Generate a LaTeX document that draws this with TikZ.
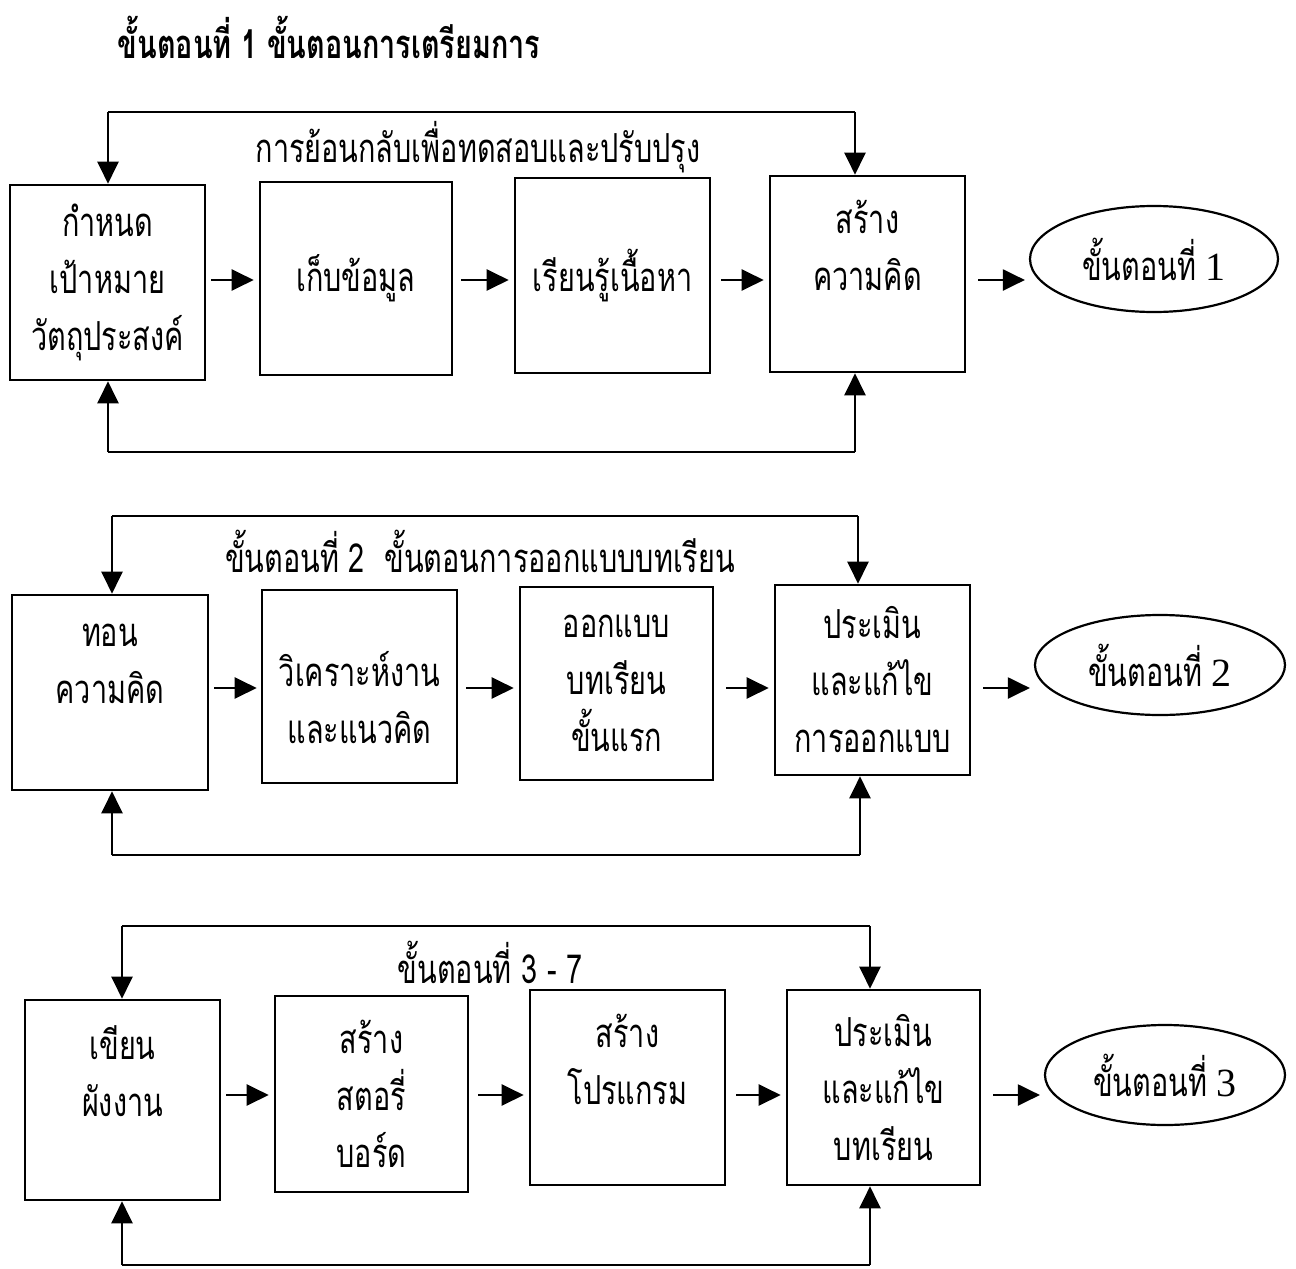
\documentclass[tikz,border=0pt]{standalone}
\usepackage{fontspec}
\setmainfont[Script=Thai, FakeStretch=0.72]{Loma}
\newfontfamily\serdigits{Liberation Serif}
\usetikzlibrary{arrows.meta,shapes.geometric}
\tikzset{
  box/.style={draw, line width=1.3pt, align=center, font=\fontsize{20}{28.5}\selectfont, inner sep=0pt},
  oval/.style={draw, ellipse, line width=1.1pt, font=\fontsize{20}{24}\selectfont, inner sep=0pt},
  arr/.style={line width=1.1pt, -{Triangle[length=11pt,width=10.5pt]}},
  fb/.style={line width=1.1pt},
  lbl/.style={font=\fontsize{20}{24}\selectfont, inner sep=0pt}
}
\begin{document}
\begin{tikzpicture}[x=0.5pt,y=-0.5pt]
\useasboundingbox (0,0) rectangle (1296,1269);
% title
\node[lbl, font=\fontsize{20}{24}\selectfont\bfseries] (title) at (329,37) {ขั้นตอนที่ 1 ขั้นตอนการเตรียมการ};

% ---------- Row 1 ----------
\node[box, minimum width=97.5pt, minimum height=97.5pt] (a1) at (107.5,282.5) {กำหนด\\เป้าหมาย\\วัตถุประสงค์};
\node[box, minimum width=96pt, minimum height=96.5pt] (b1) at (356,278.5) {เก็บข้อมูล};
\node[box, minimum width=97.5pt, minimum height=97.5pt] (c1) at (612.5,275.5) {เรียนรู้เนื้อหา};
\node[box, minimum width=97.5pt, minimum height=98pt] (d1) at (867.5,274) {สร้าง\\ความคิด\\\mbox{}};
\node[oval, minimum width=124pt, minimum height=53pt] (e1) at (1154,259) {ขั้นตอนที่ {\serdigits 1}};
\node[lbl] (l1) at (478,147) {การย้อนกลับเพื่อทดสอบและปรับปรุง};

\draw[arr, shorten <=2.5pt, shorten >=2.5pt] (a1.east |- 0,280) -- (b1.west |- 0,280);
\draw[arr, shorten <=4pt, shorten >=2.5pt] (b1.east |- 0,280) -- (c1.west |- 0,280);
\draw[arr, shorten <=5pt, shorten >=2.5pt] (c1.east |- 0,280) -- (d1.west |- 0,280);
\draw[arr, shorten <=6pt, shorten >=2pt] (d1.east |- 0,280) -- (e1.west |- 0,280);

\coordinate (t1a) at (108,112);
\coordinate (t1d) at (855,112);
\coordinate (b1a) at (108,452);
\coordinate (b1d) at (855,452);
\draw[fb] (t1a) -- (t1d);
\draw[arr] (t1a) -- (t1a |- a1.north);
\draw[arr] (t1d) -- (t1d |- d1.north);
\draw[fb] (b1a) -- (b1d);
\draw[arr] (b1a) -- (b1a |- a1.south);
\draw[arr] (b1d) -- (b1d |- d1.south);

% ---------- Row 2 ----------
\node[box, minimum width=98pt, minimum height=97.5pt] (a2) at (110,692.5) {ทอน\\ความคิด\\\mbox{}};
\node[box, minimum width=97.5pt, minimum height=96.5pt] (b2) at (359.5,686.5) {\mbox{}\\วิเคราะห์งาน\\และแนวคิด};
\node[box, minimum width=96.5pt, minimum height=96.5pt] (c2) at (616.5,683.5) {ออกแบบ\\บทเรียน\\ขั้นแรก};
\node[box, minimum width=97.5pt, minimum height=95pt] (d2) at (872.5,680) {ประเมิน\\และแก้ไข\\การออกแบบ};
\node[oval, minimum width=125pt, minimum height=50pt] (e2) at (1160,665) {ขั้นตอนที่ {\serdigits 2}};
\node[lbl] (l2) at (480,551) {ขั้นตอนที่ 2\ \ ขั้นตอนการออกแบบบทเรียน};

\draw[arr, shorten <=2.5pt, shorten >=2pt] (a2.east |- 0,688) -- (b2.west |- 0,688);
\draw[arr, shorten <=4pt, shorten >=2.5pt] (b2.east |- 0,688) -- (c2.west |- 0,688);
\draw[arr, shorten <=6pt, shorten >=2.5pt] (c2.east |- 0,688) -- (d2.west |- 0,688);
\draw[arr, shorten <=6pt, shorten >=2pt] (d2.east |- 0,688) -- (e2.west |- 0,688);

\coordinate (t2a) at (112,516);
\coordinate (t2d) at (858,516);
\coordinate (b2a) at (112,855);
\coordinate (b2d) at (860,855);
\draw[fb] (t2a) -- (t2d);
\draw[arr] (t2a) -- (t2a |- a2.north);
\draw[arr] (t2d) -- (t2d |- d2.north);
\draw[fb] (b2a) -- (b2d);
\draw[arr] (b2a) -- (b2a |- a2.south);
\draw[arr] (b2d) -- (b2d |- d2.south);

% ---------- Row 3 ----------
\node[box, minimum width=97.5pt, minimum height=100pt] (a3) at (122.5,1100) {เขียน\\ผังงาน\\\mbox{}};
\node[box, minimum width=96.5pt, minimum height=98pt] (b3) at (371.5,1094) {สร้าง\\สตอรี่\\บอร์ด};
\node[box, minimum width=97.5pt, minimum height=97.5pt] (c3) at (627.5,1087.5) {สร้าง\\โปรแกรม\\\mbox{}};
\node[box, minimum width=96.5pt, minimum height=97.5pt] (d3) at (883.5,1087.5) {ประเมิน\\และแก้ไข\\บทเรียน};
\node[oval, minimum width=120pt, minimum height=50pt] (e3) at (1165,1075) {ขั้นตอนที่ {\serdigits 3}};
\node[lbl] (l3) at (490,962) {ขั้นตอนที่ 3 - 7};

\draw[arr, shorten <=2.5pt, shorten >=2.5pt] (a3.east |- 0,1095) -- (b3.west |- 0,1095);
\draw[arr, shorten <=4.5pt, shorten >=2.5pt] (b3.east |- 0,1095) -- (c3.west |- 0,1095);
\draw[arr, shorten <=5pt, shorten >=2.5pt] (c3.east |- 0,1095) -- (d3.west |- 0,1095);
\draw[arr, shorten <=6pt, shorten >=2pt] (d3.east |- 0,1095) -- (e3.west |- 0,1095);

\coordinate (t3a) at (122,926);
\coordinate (t3d) at (870,926);
\coordinate (b3a) at (122,1265);
\coordinate (b3d) at (870,1265);
\draw[fb] (t3a) -- (t3d);
\draw[arr] (t3a) -- (t3a |- a3.north);
\draw[arr] (t3d) -- (t3d |- d3.north);
\draw[fb] (b3a) -- (b3d);
\draw[arr] (b3a) -- (b3a |- a3.south);
\draw[arr] (b3d) -- (b3d |- d3.south);
\end{tikzpicture}
\end{document}
